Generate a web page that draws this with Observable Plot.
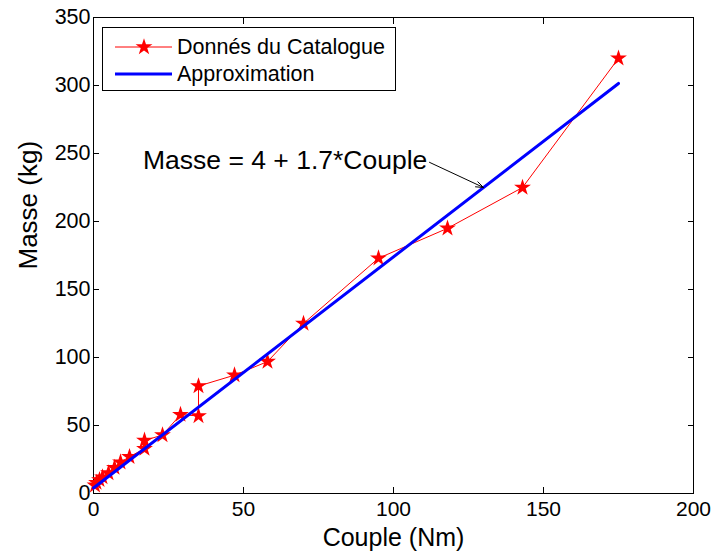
<!DOCTYPE html>
<html>
<head>
<meta charset="utf-8">
<script src="https://cdn.jsdelivr.net/npm/d3@7"></script>
<script src="https://cdn.jsdelivr.net/npm/@observablehq/plot@0.6"></script>
<style>
  html, body { margin: 0; padding: 0; background: #fff; }
  #wrap { position: relative; width: 719px; height: 556px; font-family: "Liberation Sans", Arial, sans-serif; }
  #legend { position: absolute; left: 102px; top: 27px; width: 292px; height: 62px; border: 1px solid #000; background: #fff; }
  #legend svg { position: absolute; left: 0; top: 0; }
  #legend .t { position: absolute; left: 74px; font-size: 21.5px; line-height: 22px; color: #000; white-space: nowrap; }
</style>
</head>
<body>
<div id="wrap"></div>
<script>
// Catalogue data (Couple in Nm, Masse in kg)
const couple = [0.5, 1, 2, 3, 5, 7, 9, 12, 17, 17, 23, 29, 35, 35, 47, 58, 70, 95, 118, 143, 175];
const masse  = [6, 8, 10, 12, 15, 19, 23, 27, 33, 39, 43, 58, 57, 79, 87, 97, 125, 173, 195, 225, 320];

// Approximation line endpoints: Masse = 4 + 1.7*Couple
const approxX = [0, 175];
const approxY = [4, 301.5];

// Axis ticks
const xTicks = [0, 50, 100, 150, 200];
const yTicks = [0, 50, 100, 150, 200, 250, 300, 350];

// Annotation
const annText = ["Masse = 4 + 1.7*Couple"];
const annTextPos = {x: 16.5, y: 245};
const annArrow = [{x1: 112, y1: 243.5, x2: 130, y2: 225}];

const data = couple.map((c, i) => ({couple: c, masse: masse[i]}));
const approx = approxX.map((x, i) => ({x, y: approxY[i]}));

const chart = Plot.plot({
  width: 719,
  height: 556,
  marginLeft: 93,
  marginRight: 26,
  marginTop: 17,
  marginBottom: 63,
  style: {fontFamily: "Liberation Sans, Arial, sans-serif", background: "#fff", color: "#000", overflow: "visible"},
  x: {domain: [0, 200]},
  y: {domain: [0, 350]},
  marks: [
    Plot.axisX({anchor: "bottom", ticks: xTicks, tickSize: -6, tickPadding: 14, fontSize: 21, label: null}),
    Plot.axisX({anchor: "top", ticks: xTicks, tickSize: -6, tickFormat: () => "", label: null}),
    Plot.axisY({anchor: "left", ticks: yTicks, tickSize: -6, tickPadding: 9, fontSize: 21.5, label: null}),
    Plot.axisY({anchor: "right", ticks: yTicks, tickSize: -6, tickFormat: () => "", label: null}),
    Plot.frame({stroke: "#000", strokeWidth: 1}),
    Plot.line(data, {x: "couple", y: "masse", stroke: "#ff0000", strokeWidth: 1}),
    Plot.dot(data, {x: "couple", y: "masse", symbol: "star", r: 5.3, fill: "#ff0000", stroke: "none"}),
    Plot.line(approx, {x: "x", y: "y", stroke: "#0000ff", strokeWidth: 3}),
    Plot.text(annText, {x: annTextPos.x, y: annTextPos.y, text: d => d, textAnchor: "start", fontSize: 26.5, fill: "#000"}),
    Plot.arrow(annArrow, {x1: "x1", y1: "y1", x2: "x2", y2: "y2", stroke: "#000", strokeWidth: 1, headLength: 12, headAngle: 40}),
    Plot.text(["Couple (Nm)"], {frameAnchor: "bottom", dy: 52, text: d => d, fontSize: 25, fill: "#000"}),
    Plot.text(["Masse (kg)"], {frameAnchor: "left", dx: -65, dy: 14, rotate: -90, text: d => d, fontSize: 26, fill: "#000"})
  ]
});

const wrap = document.getElementById("wrap");
wrap.appendChild(chart);

// Legend (inside the axes, top-left)
const legend = document.createElement("div");
legend.id = "legend";
legend.innerHTML = `
  <svg width="292" height="62">
    <line x1="12" x2="69" y1="19" y2="19" stroke="#ff0000" stroke-width="1"></line>
    <path transform="translate(41,19)" d="${d3.symbol(d3.symbolStar, Math.PI * 5.3 * 5.3)()}" fill="#ff0000"></path>
    <line x1="12" x2="69" y1="46" y2="46" stroke="#0000ff" stroke-width="3"></line>
  </svg>
  <div class="t" style="top:8px">Donnés du Catalogue</div>
  <div class="t" style="top:35px">Approximation</div>`;
wrap.appendChild(legend);
</script>
</body>
</html>
